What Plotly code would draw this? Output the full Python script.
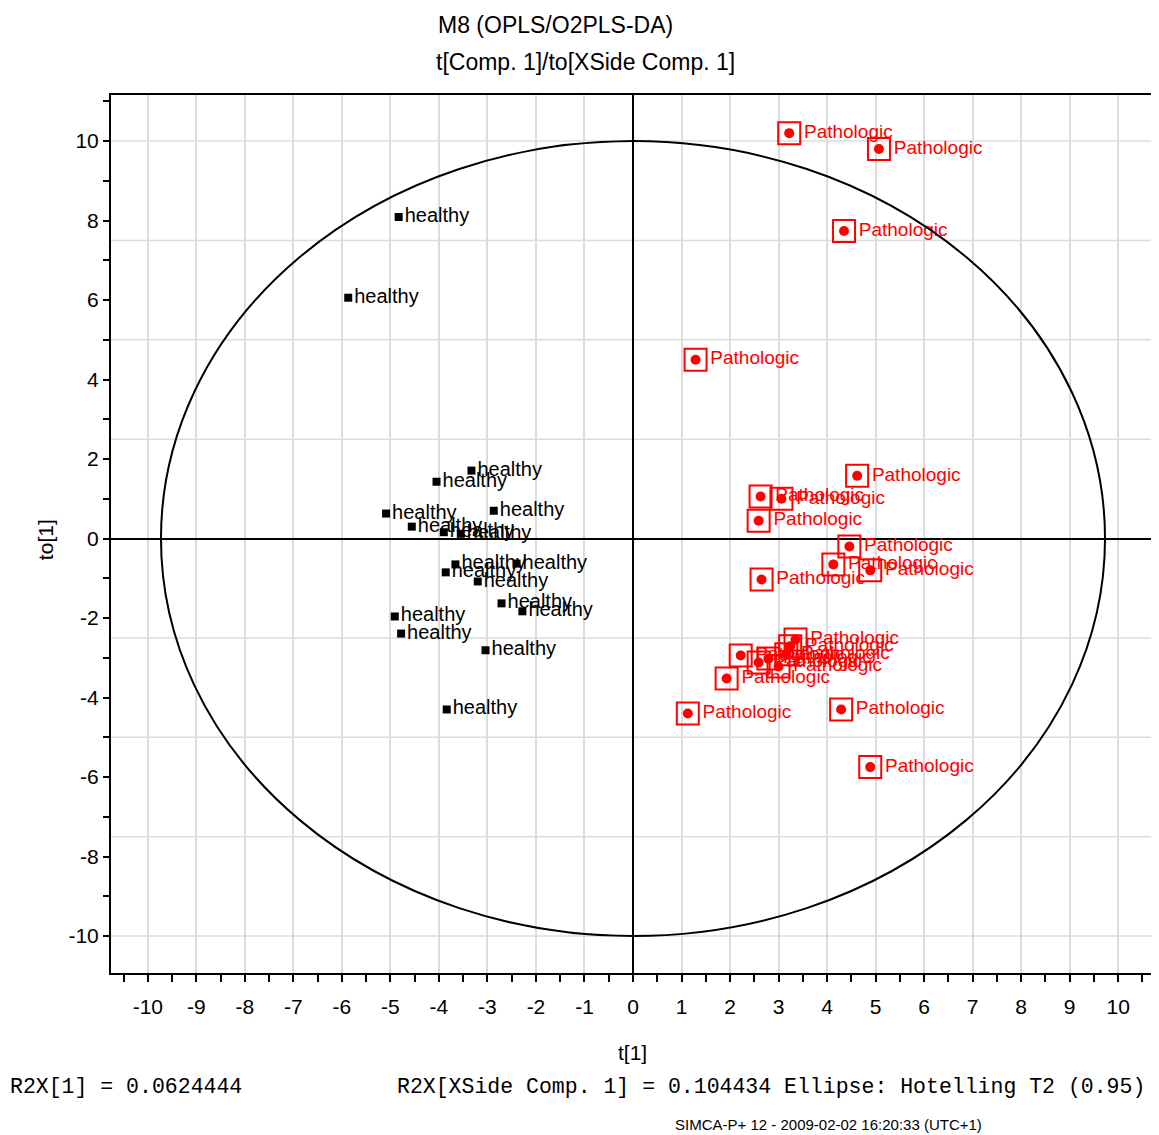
import plotly.graph_objects as go

# ---- data ----
healthy_x = [-4.83, -5.87, -3.33, -4.05, -5.09, -2.87, -4.56, -3.90, -3.55, -3.66,
             -3.86, -2.40, -3.20, -2.71, -2.28, -4.91, -4.78, -3.04, -3.84]
healthy_y = [8.09, 6.06, 1.71, 1.43, 0.63, 0.70, 0.30, 0.16, 0.12, -0.65,
             -0.85, -0.63, -1.08, -1.63, -1.83, -1.96, -2.39, -2.81, -4.30]

patho_x = [3.22, 5.07, 4.35, 1.29, 4.62, 2.63, 3.06, 2.59, 4.46, 4.13, 4.89, 2.65,
           2.22, 1.93, 3.35, 3.24, 3.16, 2.79, 2.59, 3.00, 1.13, 4.29, 4.89]
patho_y = [10.20, 9.80, 7.74, 4.50, 1.58, 1.06, 1.00, 0.45, -0.20, -0.65, -0.80, -1.03,
           -2.94, -3.52, -2.54, -2.71, -2.91, -3.02, -3.12, -3.22, -4.40, -4.30, -5.75]

healthy_label = "healthy"
patho_label = "Pathologic"

ellipse_rx = 9.73
ellipse_ry = 10.0

x_ticks = list(range(-10, 11))
y_ticks = list(range(-10, 11, 2))
y_grid = [-10, -7.5, -5, -2.5, 2.5, 5, 7.5, 10]

title1 = "M8 (OPLS/O2PLS-DA)"
title2 = "t[Comp. 1]/to[XSide Comp. 1]"
x_title = "t[1]"
y_title = "to[1]"
footer_left = "R2X[1] = 0.0624444"
footer_right = "R2X[XSide Comp. 1] = 0.104434 Ellipse: Hotelling T2 (0.95)"
footer_stamp = "SIMCA-P+ 12 - 2009-02-02 16:20:33 (UTC+1)"

XR = [-10.76, 10.76]
YR = [-10.93, 11.16]

# page body has a default 8px margin; compensate so the picture lands like the reference
OFF = 8
W, H = 1159 - OFF, 1135 - OFF
ML = 111 - OFF
MT = 95 - OFF
MR = 2
MB = H - (973 - OFF)
PW = W - ML - MR
PH = H - MT - MB


def px(p):
    return (p - OFF - ML) / PW


def py(q):
    return (H - MB - (q - OFF)) / PH


SANS = "Liberation Sans, Arial, sans-serif"
MONO = "Liberation Mono, Courier New, monospace"

fig = go.Figure()

fig.add_trace(go.Scatter(
    x=healthy_x, y=healthy_y, mode="markers+text",
    text=[healthy_label] * len(healthy_x), textposition="middle right",
    textfont=dict(family=SANS, size=20, color="black"),
    marker=dict(symbol="square", size=8, color="black"),
    hoverinfo="x+y", showlegend=False, cliponaxis=False))

fig.add_trace(go.Scatter(
    x=patho_x, y=patho_y, mode="markers",
    marker=dict(symbol="circle", size=10, color="#ff0000"),
    hoverinfo="skip", showlegend=False))

fig.add_trace(go.Scatter(
    x=patho_x, y=patho_y, mode="markers+text",
    text=[patho_label] * len(patho_x), textposition="middle right",
    textfont=dict(family=SANS, size=19, color="#ff0000"),
    marker=dict(symbol="square-open", size=22, color="#ff0000", line=dict(width=2, color="#ff0000")),
    hoverinfo="x+y", showlegend=False, cliponaxis=False))

shapes = []
for g in y_grid:
    shapes.append(dict(type="line", xref="paper", x0=0, x1=1, yref="y", y0=g, y1=g,
                       line=dict(color="#dcdcdc", width=1.5), layer="below"))
shapes.append(dict(type="circle", xref="x", yref="y",
                   x0=-ellipse_rx, x1=ellipse_rx, y0=-ellipse_ry, y1=ellipse_ry,
                   line=dict(color="black", width=2), layer="above"))

annotations = [
    dict(text=title1, x=px(437), y=py(25), xref="paper", yref="paper", xanchor="left", yanchor="middle",
         showarrow=False, font=dict(family=SANS, size=23, color="black")),
    dict(text=title2, x=px(435), y=py(62), xref="paper", yref="paper", xanchor="left", yanchor="middle",
         showarrow=False, font=dict(family=SANS, size=23, color="black")),
    dict(text=x_title, x=px(633), y=py(1052), xref="paper", yref="paper", xanchor="center", yanchor="middle",
         showarrow=False, font=dict(family=SANS, size=21, color="black")),
    dict(text=y_title, x=px(45), y=py(540), xref="paper", yref="paper", xanchor="center", yanchor="middle",
         textangle=-90, showarrow=False, font=dict(family=SANS, size=21, color="black")),
    dict(text=footer_left, x=px(8), y=py(1087), xref="paper", yref="paper", xanchor="left", yanchor="middle",
         showarrow=False, font=dict(family=MONO, size=21.5, color="black")),
    dict(text=footer_right, x=px(396), y=py(1087), xref="paper", yref="paper", xanchor="left", yanchor="middle",
         showarrow=False, font=dict(family=MONO, size=21.5, color="black")),
    dict(text=footer_stamp, x=px(830), y=py(1124), xref="paper", yref="paper", xanchor="center", yanchor="middle",
         showarrow=False, font=dict(family=SANS, size=15, color="black")),
]

fig.update_layout(
    width=W, height=H,
    margin=dict(l=ML, r=MR, t=MT, b=MB, pad=0),
    paper_bgcolor="white", plot_bgcolor="white",
    shapes=shapes, annotations=annotations,
    xaxis=dict(range=XR, tickmode="array", tickvals=x_ticks, ticktext=[str(v) for v in x_ticks],
               showgrid=True, gridcolor="#dcdcdc", gridwidth=1.5,
               zeroline=True, zerolinecolor="black", zerolinewidth=2,
               showline=True, linecolor="black", linewidth=2, mirror=True,
               ticks="outside", ticklen=7, tickwidth=2, tickcolor="black",
               minor=dict(dtick=0.5, tick0=0, ticks="outside", ticklen=7, tickwidth=2, tickcolor="black", showgrid=False),
               ticklabelstandoff=7,
               tickfont=dict(family=SANS, size=21, color="black")),
    yaxis=dict(range=YR, tickmode="array", tickvals=y_ticks, ticktext=[str(v) for v in y_ticks],
               showgrid=False,
               zeroline=True, zerolinecolor="black", zerolinewidth=2,
               showline=True, linecolor="black", linewidth=2, mirror=True,
               ticks="outside", ticklen=6, tickwidth=2, tickcolor="black",
               minor=dict(dtick=1, tick0=0, ticks="outside", ticklen=6, tickwidth=2, tickcolor="black", showgrid=False),
               tickfont=dict(family=SANS, size=21, color="black")),
)

fig.write_html("out.html")
